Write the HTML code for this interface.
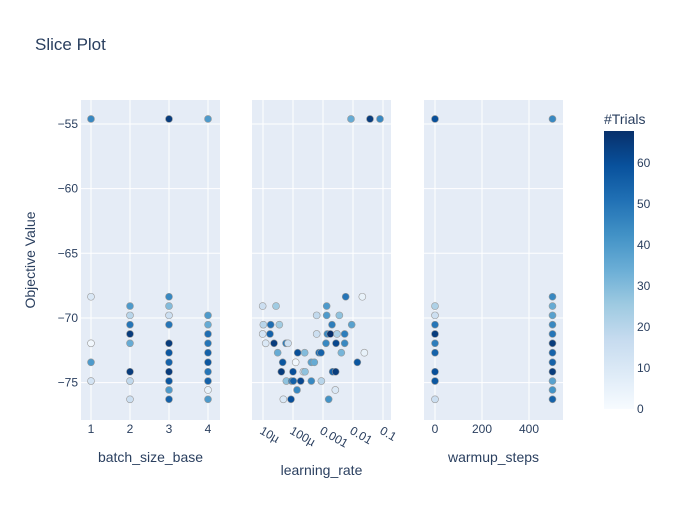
<!DOCTYPE html>
<html><head><meta charset="utf-8"><style>
body{margin:0;background:#fff;}
svg text{font-family:"Liberation Sans",sans-serif;}
</style></head><body>
<svg id="chart" width="700" height="500" xmlns="http://www.w3.org/2000/svg">
<defs>
<linearGradient id="blues" x1="0" y1="1" x2="0" y2="0">
<stop offset="0" stop-color="rgb(247,251,255)"/><stop offset="0.125" stop-color="rgb(222,235,247)"/>
<stop offset="0.25" stop-color="rgb(198,219,239)"/><stop offset="0.375" stop-color="rgb(158,202,225)"/>
<stop offset="0.5" stop-color="rgb(107,174,214)"/><stop offset="0.625" stop-color="rgb(66,146,198)"/>
<stop offset="0.75" stop-color="rgb(33,113,181)"/><stop offset="0.875" stop-color="rgb(8,81,156)"/>
<stop offset="1" stop-color="rgb(8,48,107)"/>
</linearGradient>
</defs>
<text x="35" y="50" font-size="17" fill="#2a3f5f">Slice Plot</text>
<text transform="translate(35,260) rotate(-90)" text-anchor="middle" font-size="14" fill="#2a3f5f">Objective Value</text>
<g id="plots"></g>
<rect x="604" y="131" width="30" height="278" fill="url(#blues)"/>
<text x="604" y="124" font-size="14" fill="#2a3f5f">#Trials</text>
<g id="cbticks"></g>
</svg>
<script>
const yTicks=[-55,-60,-65,-70,-75];
const bsTicks=[1,2,3,4];
const lrTickExp=[-5,-4,-3,-2,-1];
const lrTickLabels=["10µ","100µ","0.001","0.01","0.1"];
const wuTicks=[0,200,400];
const cbTicks=[0,10,20,30,40,50,60];
const trialMax=68;

const bsX=[1,1,1,1,1, 2,2,2,2,2,2,2,2, 3,3,3,3,3,3,3,3,3,3,3,3, 4,4,4,4,4,4,4,4,4,4,4];
const bsY=[-54.61,-68.36,-71.96,-73.43,-74.88, -69.08,-69.80,-70.52,-71.24,-71.96,-74.16,-74.88,-76.29,
 -54.61,-68.36,-69.08,-69.80,-70.52,-71.96,-72.69,-73.43,-74.16,-74.88,-75.57,-76.29,
 -54.61,-69.80,-70.52,-71.24,-71.96,-72.69,-73.43,-74.16,-74.88,-75.57,-76.29];
const bsT=[45,10,2,40,12, 40,20,50,65,35,65,18,15, 65,45,30,15,50,65,58,55,65,58,40,55, 40,40,35,52,50,55,58,50,55,5,40];

const lrExp=[-2.067,-1.433,-1.1,
 -2.244,-1.689, -5.011,-4.566,-2.878, -3.211,-2.878,-2.455,
 -4.989,-4.744,-4.455,-2.7,-2.044, -5.011,-4.767,-3.211,-2.855,-2.755,-2.533,-2.278,
 -4.911,-4.633,-4.233,-4.166,-2.9,-2.567,-2.278, -4.511,-3.844,-3.611,-3.133,-3.066,-2.389,-1.622,
 -4.344,-3.911,-3.389,-3.289,-1.855, -4.389,-4.0,-3.655,-3.6,-2.678,-2.578,
 -4.222,-4.044,-3.989,-3.744,-3.389,-3.055, -3.866,-2.589, -4.322,-4.066,-2.811];
const lrY=[-54.61,-54.61,-54.61,
 -68.36,-68.36, -69.08,-69.08,-69.08, -69.80,-69.80,-69.80,
 -70.52,-70.52,-70.52,-70.52,-70.52, -71.24,-71.24,-71.24,-71.24,-71.24,-71.24,-71.24,
 -71.96,-71.96,-71.96,-71.96,-71.96,-71.96,-71.96, -72.69,-72.69,-72.69,-72.69,-72.69,-72.69,-72.69,
 -73.43,-73.43,-73.43,-73.43,-73.43, -74.16,-74.16,-74.16,-74.16,-74.16,-74.16,
 -74.88,-74.88,-74.88,-74.88,-74.88,-74.88, -75.57,-75.57, -76.29,-76.29,-76.29];
const lrT=[35,65,45,
 50,5, 15,25,40, 18,40,28,
 20,52,25,48,38, 12,55,15,45,68,22,48,
 10,65,48,15,45,62,45, 35,60,30,52,55,32,5,
 58,2,38,35,58, 65,60,15,28,55,65,
 28,48,55,62,45,20, 45,10, 10,60,42];

const wuX=[0,0,0,0,0,0,0,0,0,0, 500,500,500,500,500,500,500,500,500,500,500,500,500];
const wuY=[-54.61,-69.08,-69.80,-70.52,-71.24,-71.96,-72.69,-74.16,-74.88,-76.29,
 -54.61,-68.36,-69.08,-69.80,-70.52,-71.24,-71.96,-72.69,-73.43,-74.16,-74.88,-75.57,-76.29];
const wuT=[60,22,15,50,65,48,55,60,58,15, 45,45,35,38,45,50,65,55,55,65,38,42,55];

const NS="http://www.w3.org/2000/svg";
const g=document.getElementById('plots');
function mk(tag,attrs,parent){const e=document.createElementNS(NS,tag);for(const k in attrs)e.setAttribute(k,attrs[k]);(parent||g).appendChild(e);return e;}
const Y0=100,Y1=420;
function yScale(v){return 124+(-55-v)*12.93;}
const stops=[[247,251,255],[222,235,247],[198,219,239],[158,202,225],[107,174,214],[66,146,198],[33,113,181],[8,81,156],[8,48,107]];
function color(t){let f=Math.max(0,Math.min(1,t/trialMax))*8;let i=Math.min(7,Math.floor(f));let r=f-i;const a=stops[i],b=stops[i+1];return 'rgb('+a.map((c,k)=>Math.round(c+(b[k]-c)*r)).join(',')+')';}

const panels=[
 {name:'batch-size',x0:81,x1:220,sx:v=>91+(v-1)*39,ticks:bsTicks,labels:bsTicks.map(String),title:'batch_size_base',ty:462,rot:false,X:bsX,Yv:bsY,T:bsT},
 {name:'learning-rate',x0:252,x1:391,sx:v=>263+(v+5)*30,ticks:lrTickExp,labels:lrTickLabels,title:'learning_rate',ty:475,rot:true,X:lrExp,Yv:lrY,T:lrT},
 {name:'warmup-steps',x0:424,x1:563,sx:v=>435+v*0.235,ticks:wuTicks,labels:wuTicks.map(String),title:'warmup_steps',ty:462,rot:false,X:wuX,Yv:wuY,T:wuT}
];
panels.forEach((p,pi)=>{
 let r=mk('rect',{x:p.x0,y:Y0,width:p.x1-p.x0,height:Y1-Y0,fill:'#e5ecf6'});
 
 
 yTicks.forEach(t=>{let l=mk('line',{x1:p.x0,x2:p.x1,y1:yScale(t),y2:yScale(t),stroke:'#fff','stroke-width':1});
  
  });
 p.ticks.forEach((t,i)=>{const x=p.sx(t);
  let l=mk('line',{x1:x,x2:x,y1:Y0,y2:Y1,stroke:'#fff','stroke-width':1});
  
  
  let tx;
  if(p.rot){tx=mk('text',{transform:'translate('+(x-4)+',433) rotate(30)','font-size':12,fill:'#2a3f5f'});}
  else{tx=mk('text',{x:x,y:433,'text-anchor':'middle','font-size':12,fill:'#2a3f5f'});}
  tx.textContent=p.labels[i];
  
  
 });
 let tt=mk('text',{x:(p.x0+p.x1)/2,y:p.ty,'text-anchor':'middle','font-size':14,fill:'#2a3f5f'});
 tt.textContent=p.title;
 
 
 p.X.forEach((xv,i)=>{
  let c=mk('circle',{cx:p.sx(xv),cy:yScale(p.Yv[i]),r:3.5,fill:color(p.T[i]),stroke:'#999','stroke-width':0.6});
  
  
 });
});
yTicks.forEach(t=>{let tx=mk('text',{x:78,y:yScale(t)+4,'text-anchor':'end','font-size':12,fill:'#2a3f5f'});
 tx.textContent='\u2212'+Math.abs(t);
 
 });
const cb=document.getElementById('cbticks');
cbTicks.forEach(t=>{let tx=mk('text',{x:637,y:409-t*4.1+4,'font-size':12,fill:'#2a3f5f'},cb);
 tx.textContent=String(t);
 
 });
</script>
</body></html>
